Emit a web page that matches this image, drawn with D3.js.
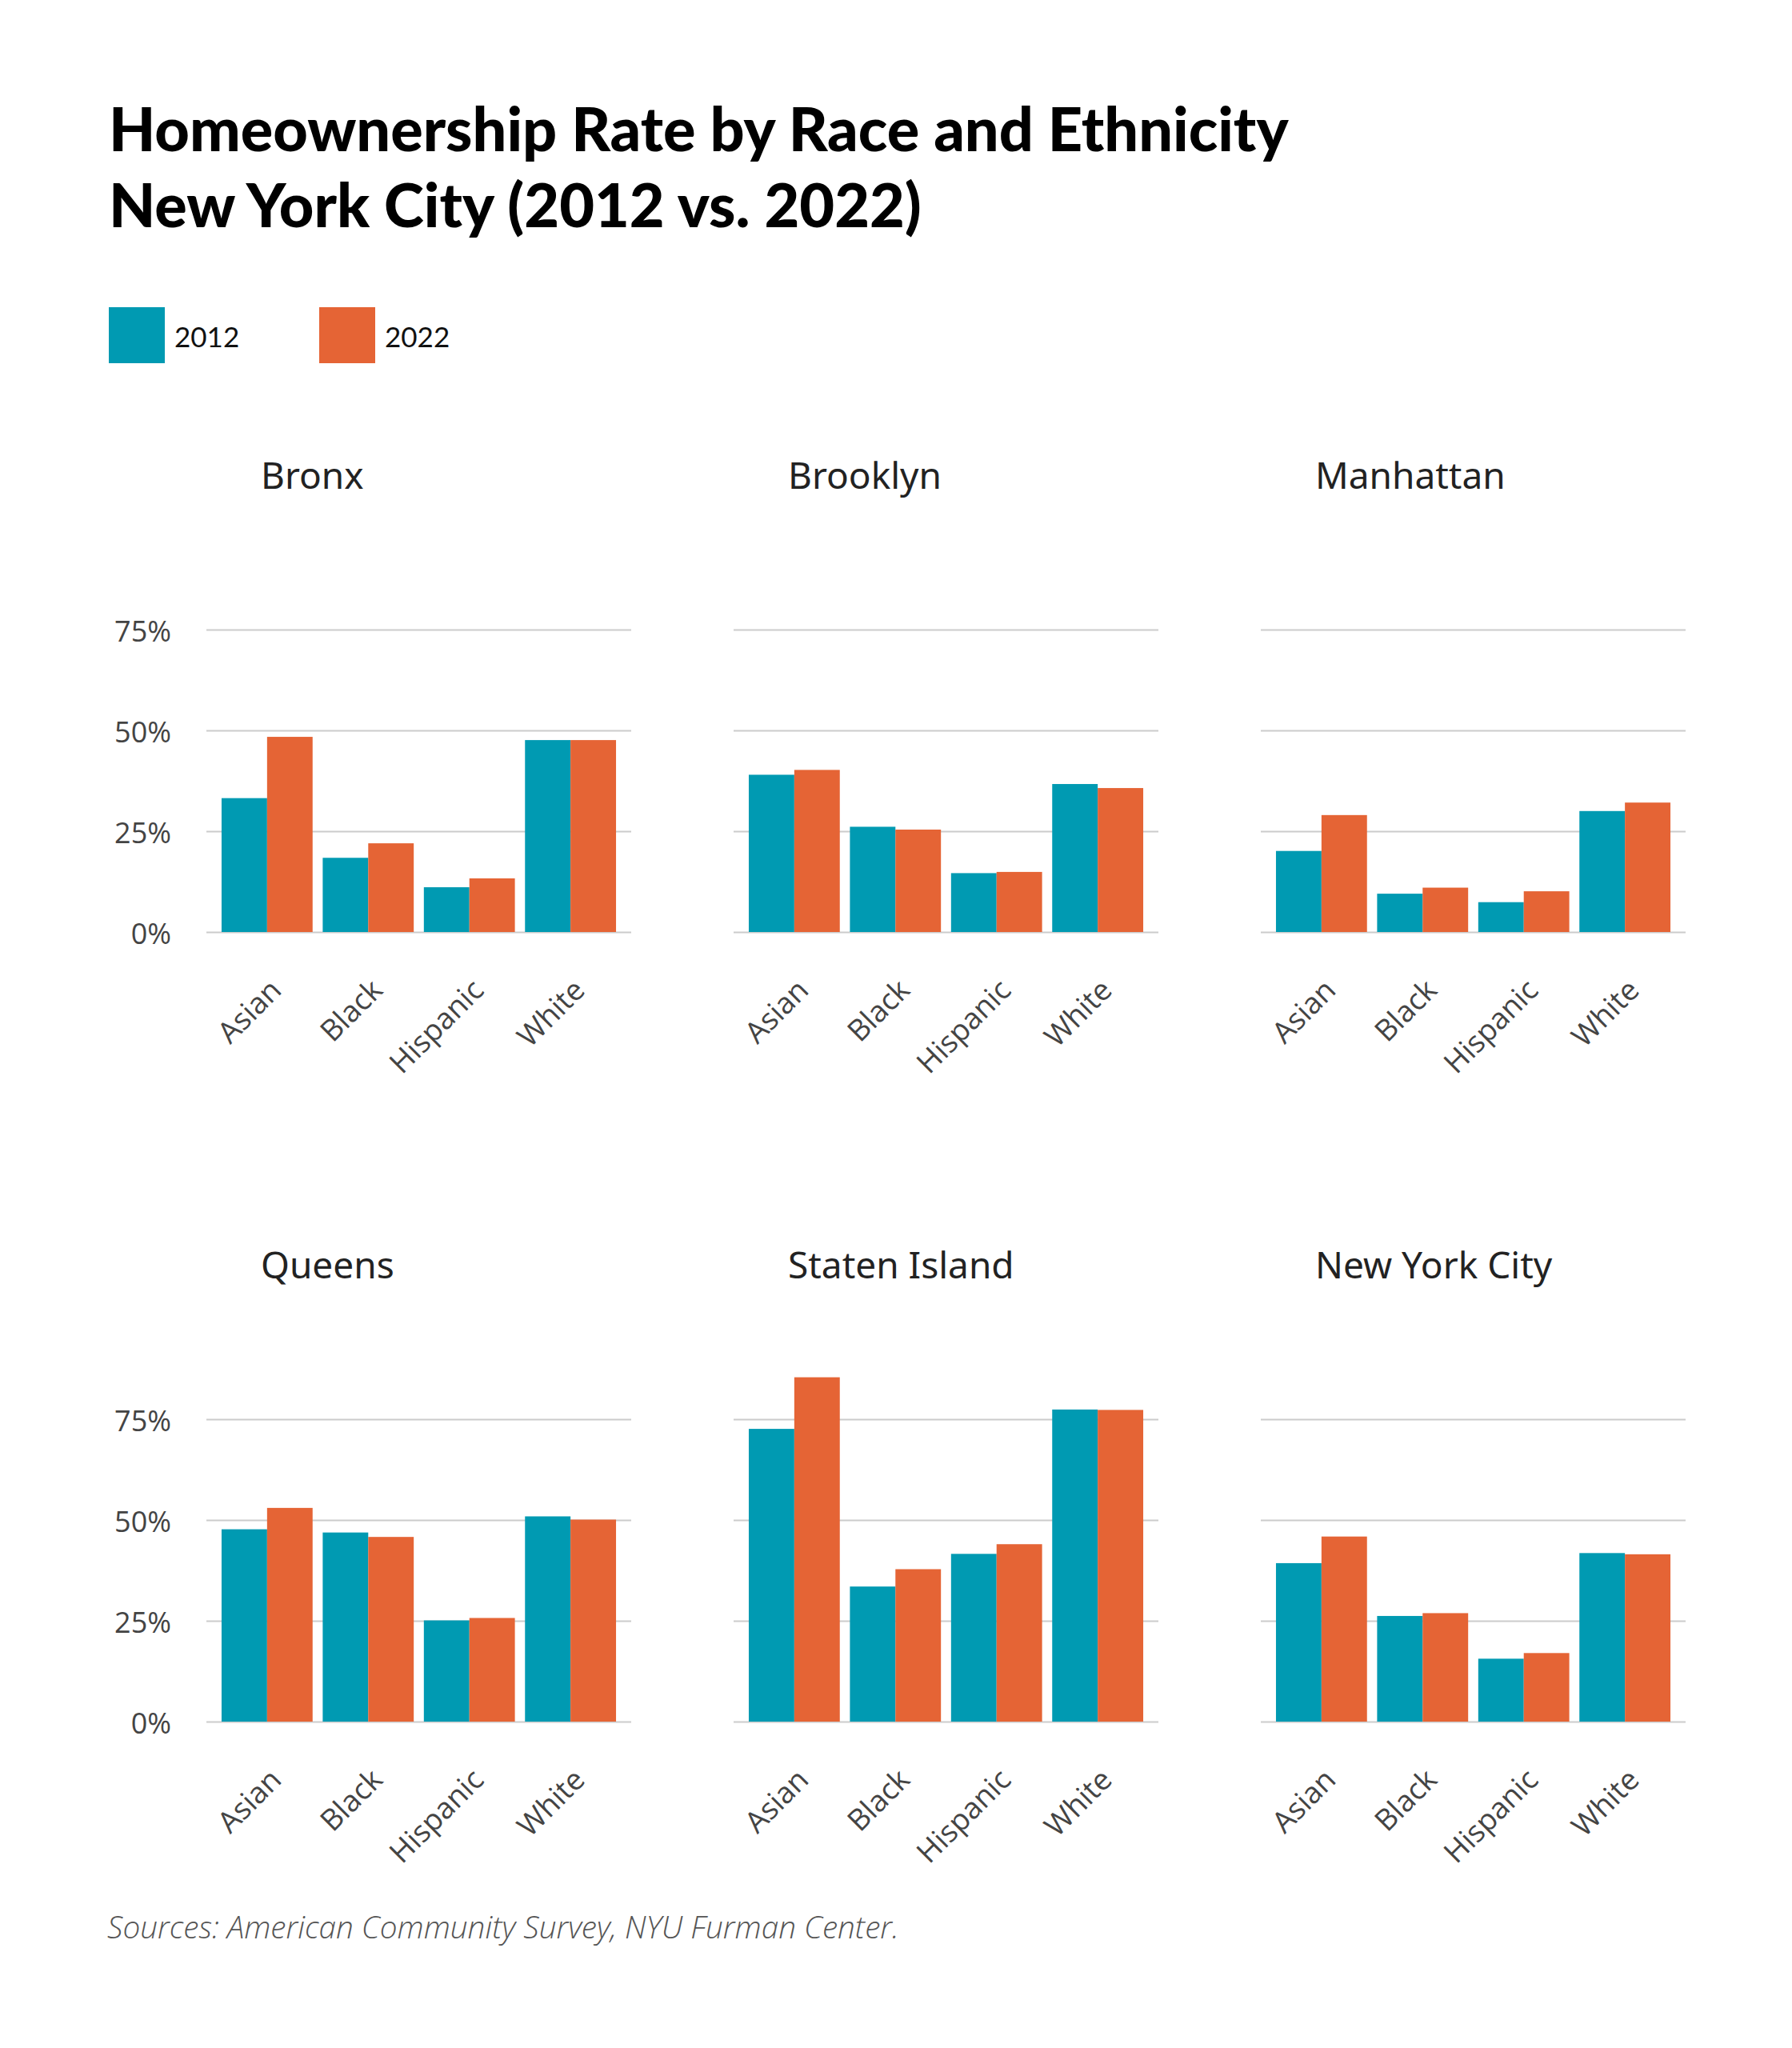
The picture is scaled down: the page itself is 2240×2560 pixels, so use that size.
<!DOCTYPE html>
<html lang="en">
<head>
<meta charset="UTF-8">
<title>Homeownership Rate by Race and Ethnicity</title>
<style>
  body { margin: 0; background: #fff; }
  svg { display: block; }
</style>
</head>
<body>
<script src="https://cdn.jsdelivr.net/npm/d3@7"></script>
<script>
// data (percent)
const boroughs = ['Bronx', 'Brooklyn', 'Manhattan', 'Queens', 'Staten Island', 'New York City'];
const races = ['Asian', 'Black', 'Hispanic', 'White'];
const years = ['2012', '2022'];
const rate2012 = [
  [33.2, 18.4, 11.1, 47.6],
  [39.0, 26.1, 14.6, 36.7],
  [20.1, 9.5, 7.4, 30.0],
  [47.7, 46.9, 25.1, 50.9],
  [72.6, 33.5, 41.6, 77.4],
  [39.3, 26.2, 15.6, 41.8]
];
const rate2022 = [
  [48.4, 22.0, 13.3, 47.6],
  [40.2, 25.4, 14.9, 35.7],
  [29.0, 11.0, 10.1, 32.1],
  [53.0, 45.8, 25.7, 50.1],
  [85.4, 37.8, 44.0, 77.3],
  [45.9, 26.9, 17.0, 41.5]
];
const yTicks = [0, 25, 50, 75];
const colors = ['#009ab2', '#e56435'];

const W = 2240, H = 2560;
const panelW = 531, panelH = 378;
const colX = [258, 917, 1576];
const rowZero = [1165, 2152];

const svg = d3.select('body').append('svg')
  .attr('width', W)
  .attr('height', H);

// title
const title = svg.append('g').attr('font-family', 'Lato, sans-serif')
  .attr('font-weight', 900).attr('fill', '#000');
const t1 = title.append('text').attr('x', 136).attr('y', 189)
  .attr('font-size', 66).text('Homeownership Rate by Race and Ethnicity');
const t2 = title.append('text').attr('x', 136).attr('y', 284)
  .attr('font-size', 66).text('New York City (2012 vs. 2022)');
// fit width of first line to the reference
const fs = 66 * 1475 / t1.node().getComputedTextLength();
t1.attr('font-size', fs);
t2.attr('font-size', fs);

// legend
const legX = [136, 399];
years.forEach((yr, i) => {
  svg.append('rect')
    .attr('x', legX[i]).attr('y', 384)
    .attr('width', 70).attr('height', 70)
    .attr('fill', colors[i]);
  svg.append('text')
    .attr('x', legX[i] + 82).attr('y', 434)
    .attr('font-family', 'Lato, sans-serif')
    .attr('font-size', 35)
    .attr('fill', '#111')
    .text(yr);
});

const x = d3.scaleBand().domain(races).range([0, panelW])
  .paddingInner(0.1).paddingOuter(0.15);
const xs = d3.scaleBand().domain(years).range([0, x.bandwidth()]);
const y = d3.scaleLinear().domain([0, 75]).range([panelH, 0]);

boroughs.forEach((name, b) => {
  const col = b % 3, row = Math.floor(b / 3);
  const g = svg.append('g')
    .attr('transform', `translate(${colX[col]},${rowZero[row] - panelH})`);

  g.append('text')
    .attr('x', 68).attr('y', -176)
    .attr('font-family', '"Noto Sans", sans-serif')
    .attr('font-size', 46)
    .attr('fill', '#222')
    .text(name);

  const yAxis = g.append('g')
    .call(d3.axisLeft(y).tickValues(yTicks).tickSize(-panelW).tickPadding(44)
      .tickFormat(d => d + '%'));
  yAxis.select('.domain').remove();
  yAxis.selectAll('line').attr('stroke', '#cccccc').attr('stroke-width', 2);
  yAxis.selectAll('text')
    .attr('font-family', '"Open Sans", sans-serif')
    .attr('font-size', 36)
    .attr('fill', '#444')
    .attr('dy', '0.4em')
    .style('display', col === 0 ? null : 'none');

  const vals = races.map((r, i) => ({ race: r, v: [rate2012[b][i], rate2022[b][i]] }));
  g.selectAll('g.grp')
    .data(vals)
    .join('g')
    .attr('class', 'grp')
    .attr('transform', d => `translate(${x(d.race)},0)`)
    .selectAll('rect')
    .data(d => years.map((yr, i) => ({ yr, v: d.v[i], i })))
    .join('rect')
    .attr('x', d => xs(d.yr))
    .attr('y', d => y(d.v))
    .attr('width', xs.bandwidth())
    .attr('height', d => y(0) - y(d.v))
    .attr('fill', d => colors[d.i]);

  const xAxis = g.append('g')
    .attr('transform', `translate(0,${panelH})`)
    .call(d3.axisBottom(x).tickSize(0));
  xAxis.select('.domain').remove();
  xAxis.selectAll('text')
    .attr('x', 0).attr('y', 0).attr('dy', 0)
    .attr('transform', 'translate(20,75) rotate(-45)')
    .attr('text-anchor', 'end')
    .attr('font-family', '"Open Sans", sans-serif')
    .attr('font-size', 37)
    .attr('fill', '#444');
});

// source note
const src = svg.append('text')
  .attr('x', 134).attr('y', 2423)
  .attr('font-family', '"Open Sans", sans-serif')
  .attr('font-style', 'italic')
  .attr('font-weight', 300)
  .attr('font-size', 35)
  .attr('fill', '#555')
  .text('Sources: American Community Survey, NYU Furman Center.');
const sl = src.node().getComputedTextLength();
src.attr('font-size', 35 * 990 / sl);
</script>
</body>
</html>
